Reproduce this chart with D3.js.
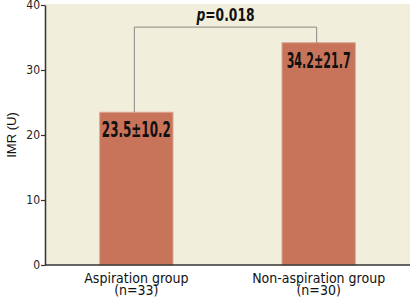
<!DOCTYPE html>
<html>
<head>
<meta charset="utf-8">
<script src="https://cdn.jsdelivr.net/npm/d3@7"></script>
<style>
  body { margin: 0; background: #fff; }
  svg { display: block; }
  text { font-family: "DejaVu Sans Condensed", "DejaVu Sans", sans-serif; font-stretch: condensed; }
</style>
</head>
<body>
<div id="chart"></div>
<script>
// data
const groups = ["Aspiration group", "Non-aspiration group"];
const groupN = ["(n=33)", "(n=30)"];
const means = [23.5, 34.2];
const valueLabels = ["23.5±10.2", "34.2±21.7"];
const yTicks = [0, 10, 20, 30, 40];
const pText = "0.018";

const width = 411, height = 302;
const margin = { top: 5, right: 1, bottom: 37, left: 45 };

const svg = d3.select("#chart").append("svg")
    .attr("width", width)
    .attr("height", height);

const y = d3.scaleLinear()
    .domain([0, 40])
    .range([height - margin.bottom, margin.top]);

const x = d3.scaleBand()
    .domain(groups)
    .range([margin.left, width - margin.right])
    .paddingInner(0.598)
    .paddingOuter(0.3);

// plot background
svg.append("rect")
    .attr("x", margin.left)
    .attr("y", margin.top - 1)
    .attr("width", width - margin.right - margin.left)
    .attr("height", y(0) - margin.top + 1)
    .attr("fill", "#f2eedc");

// bars
svg.selectAll(".bar")
    .data(groups)
    .enter().append("rect")
    .attr("class", "bar")
    .attr("x", d => x(d))
    .attr("y", (d, i) => y(means[i]))
    .attr("width", x.bandwidth())
    .attr("height", (d, i) => y(0) - y(means[i]))
    .attr("fill", "#c8745a")
    .attr("stroke", "#dba690")
    .attr("stroke-width", 1);

// value labels
svg.selectAll(".val")
    .data(groups)
    .enter().append("text")
    .attr("x", d => x(d) + x.bandwidth() / 2)
    .attr("y", (d, i) => y(means[i]) + 25)
    .attr("text-anchor", "middle")
    .style("font-weight", "bold")
    .style("font-size", "21px")
    .attr("textLength", (d, i) => i === 0 ? 69 : 64)
    .attr("lengthAdjust", "spacingAndGlyphs")
    .attr("fill", "#111")
    .text((d, i) => valueLabels[i]);

// significance bracket
const bx1 = x(groups[0]) + x.bandwidth() / 2 - 2;
const bx2 = x(groups[1]) + x.bandwidth() / 2 - 2;
const by = y(36.6);
svg.append("path")
    .attr("d", `M${bx1},${y(means[0])}V${by}H${bx2}V${y(means[1])}`)
    .attr("fill", "none")
    .attr("stroke", "#8a8a84")
    .attr("stroke-width", 1);

const pLabel = svg.append("text")
    .attr("x", (bx1 + bx2) / 2)
    .attr("y", by - 6)
    .attr("text-anchor", "middle")
    .style("font-weight", "bold")
    .style("font-size", "18px")
    .attr("textLength", 58)
    .attr("lengthAdjust", "spacingAndGlyphs")
    .attr("fill", "#111");
pLabel.append("tspan").style("font-style", "italic").text("p");
pLabel.append("tspan").text("=" + pText);

// y axis
const yAxis = svg.append("g")
    .attr("transform", `translate(${margin.left},0)`)
    .call(d3.axisLeft(y).tickValues(yTicks).tickSize(4).tickSizeOuter(0));
yAxis.select(".domain").attr("stroke", "#333").attr("stroke-width", 1.5);
yAxis.selectAll(".tick line").attr("stroke", "#333").attr("stroke-width", 1.2);
yAxis.selectAll(".tick text")
    .attr("x", -5)
    .style("font-size", "12px")
    .attr("fill", "#222");

// x axis line
svg.append("line")
    .attr("x1", margin.left)
    .attr("x2", width - margin.right)
    .attr("y1", y(0))
    .attr("y2", y(0))
    .attr("stroke", "#333")
    .attr("stroke-width", 1.5);

// x labels
const xl = svg.selectAll(".xl")
    .data(groups)
    .enter().append("text")
    .attr("x", d => x(d) + x.bandwidth() / 2)
    .attr("y", y(0) + 18)
    .attr("text-anchor", "middle")
    .style("font-size", "14px")
    .attr("fill", "#111");
xl.append("tspan").text(d => d);
xl.append("tspan")
    .attr("x", d => x(d) + x.bandwidth() / 2)
    .attr("dy", 12)
    .text((d, i) => groupN[i]);

// y label
svg.append("text")
    .attr("transform", `translate(11,${(y(0) + y(40)) / 2}) rotate(-90)`)
    .attr("text-anchor", "middle")
    .attr("dy", "0.35em")
    .style("font-family", "'Liberation Sans', Arial, sans-serif")
    .style("font-stretch", "normal")
    .style("font-size", "13px")
    .attr("fill", "#111")
    .text("IMR (U)");
</script>
</body>
</html>
